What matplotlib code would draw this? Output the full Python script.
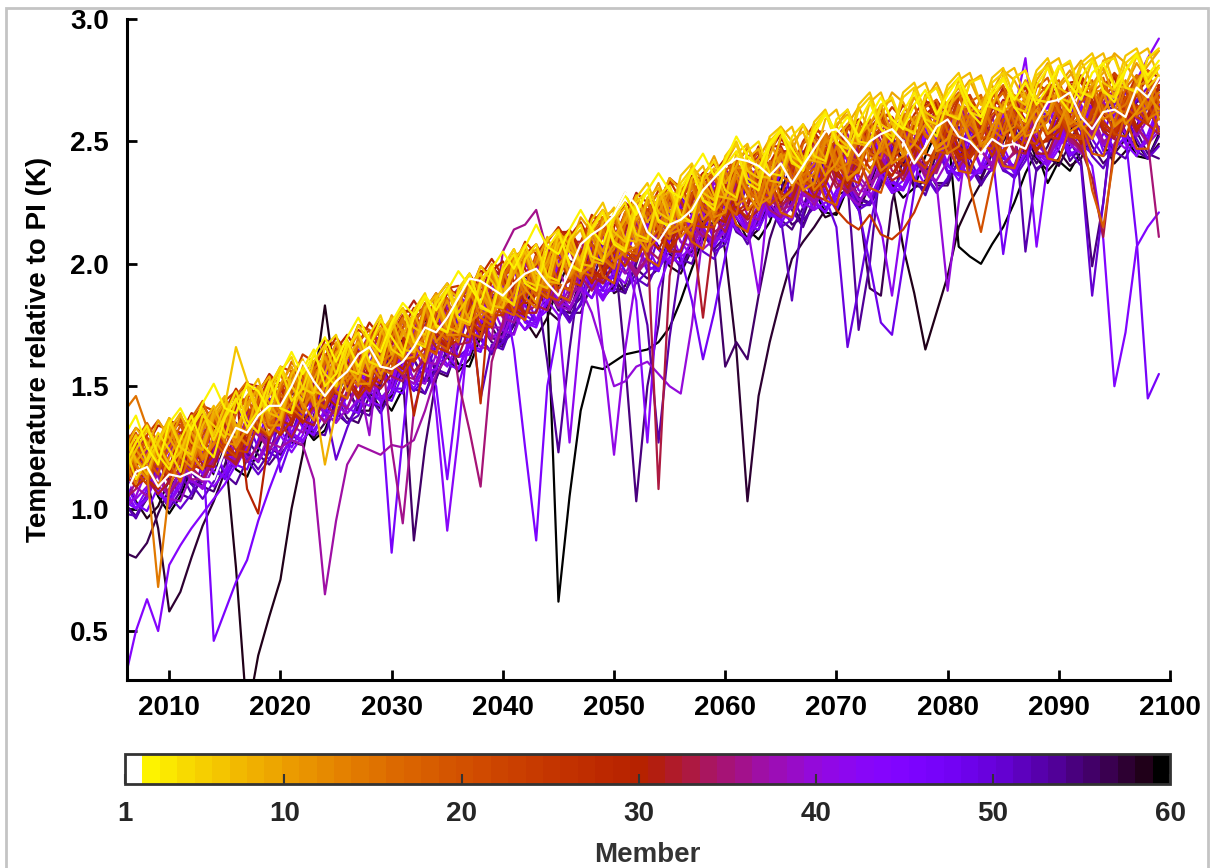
import numpy as np
import matplotlib
matplotlib.use("Agg")
import matplotlib.pyplot as plt
from matplotlib.colors import ListedColormap, Normalize
from matplotlib.cm import ScalarMappable
from matplotlib.ticker import FormatStrFormatter
from matplotlib.patches import Rectangle

plt.rcParams['font.family'] = ['Liberation Sans', 'DejaVu Sans']
plt.rcParams['font.weight'] = 'bold'

years = list(range(2006, 2100))

# annual temperature relative to PI, in hundredths of a kelvin, one list per member
m01 = [105,115,117,109,114,113,115,112,112,124, 133,131,138,142,142,150,160,152,146,152,
       156,163,166,158,157,160,166,174,172,178, 186,194,193,190,187,192,196,198,192,187,
       197,208,212,215,220,229,224,213,209,216, 218,222,230,235,240,243,242,240,236,241,
       233,240,247,254,255,250,244,250,253,255, 250,241,248,256,259,252,250,245,251,248,
       249,247,258,266,267,270,260,255,262,263, 260,272,268,276]
m02 = [130,138,125,118,135,141,132,143,151,141, 139,151,148,140,155,164,155,163,170,160,
       170,178,169,164,176,184,179,187,181,189, 197,191,184,198,205,198,207,216,207,204,
       214,222,214,208,221,228,220,230,237,230, 227,238,245,236,242,252,244,239,249,255,
       247,240,253,261,254,260,252,260,268,259, 255,265,271,261,269,276,266,260,269,275,
       267,274,265,272,281,273,267,278,282,272, 279,285,277,283]
m03 = [118,127,134,122,116,128,138,126,121,137, 145,133,140,152,141,139,157,165,150,155,
       168,158,166,177,170,163,178,186,175,172, 188,196,183,180,197,204,192,189,206,213,
       200,197,214,221,208,205,222,230,218,215, 231,238,226,222,240,246,233,230,248,254,
       242,238,255,262,250,244,258,266,255,250, 262,270,258,252,266,273,262,257,271,276,
       264,258,273,280,268,262,276,283,271,266, 279,286,274,280]
m04 = [126,112,120,131,124,115,133,140,128,138, 148,136,131,150,158,144,149,163,155,150,
       166,172,160,158,175,181,168,166,184,190, 178,176,193,199,187,183,202,208,195,193,
       210,216,203,201,219,225,212,210,228,232, 220,217,236,242,230,227,246,250,237,236,
       252,257,244,242,259,263,250,249,265,268, 256,253,268,272,261,259,274,276,264,262,
       276,279,267,266,280,283,270,268,282,284, 272,270,284,288]
m05 = [121,130,119,127,136,125,122,138,134,129, 144,150,138,141,156,162,149,147,166,171,
       157,155,171,179,165,162,181,188,174,172, 190,196,182,180,199,206,193,191,210,214,
       199,197,215,222,209,206,225,230,217,216, 233,239,226,224,243,249,235,232,250,255,
       241,239,256,262,249,247,263,268,255,252, 268,272,259,257,271,276,262,260,274,278,
       264,262,277,281,268,266,280,284,270,268, 282,286,272,277]
m06 = [115,124,132,126,118,123,135,141,130,142, 166,152,140,146,158,150,144,160,167,155,
       162,175,168,161,173,182,174,171,186,192, 180,187,199,193,186,201,208,196,194,212,
       205,201,218,225,213,209,227,233,221,218, 236,241,229,226,244,250,238,235,252,256,
       244,241,258,263,252,248,265,270,257,254, 270,274,262,259,273,278,265,262,276,280,
       268,265,279,284,272,269,282,286,274,271, 285,288,276,281]
m07 = [131,120,114,128,137,126,120,134,142,131, 129,146,153,139,137,155,161,148,146,163,
       169,156,154,172,178,165,164,182,187,174, 172,190,196,183,182,200,205,192,190,208,
       213,200,199,217,223,210,209,227,231,218, 217,235,240,228,227,245,249,236,235,252,
       256,243,242,259,263,250,249,266,270,257, 256,271,274,262,261,275,278,265,264,277,
       280,268,267,281,284,271,270,283,286,273, 272,285,288,276]
m08 = [124,133,127,119,132,139,127,124,140,146, 134,131,148,154,141,139,150,146,118,140,
       162,168,156,160,176,182,169,167,184,189, 177,175,193,198,185,184,202,206,193,192,
       209,214,201,200,218,223,210,209,226,230, 218,217,234,239,227,226,243,247,234,233,
       250,254,242,241,257,261,249,248,264,267, 255,254,269,272,261,260,274,277,264,263,
       276,279,267,266,280,282,270,269,283,285, 272,271,284,287]
m09 = [128,119,125,136,129,121,134,127,138,145, 133,141,150,143,136,152,158,147,155,168,
       158,152,167,174,163,171,180,169,176,190, 186,177,191,200,189,196,205,194,201,213,
       208,199,213,222,211,218,228,217,224,235, 230,221,235,244,233,240,248,237,244,256,
       250,241,253,262,251,257,264,254,260,270, 266,257,267,274,264,269,275,265,270,279,
       275,266,275,282,272,277,283,273,278,286, 282,274,281,287]
m10 = [116,127,133,121,127,138,131,124,137,143, 131,143,149,137,151,158,146,153,162,151,
       165,171,159,166,179,172,165,181,188,176, 183,195,189,182,198,206,195,200,211,199,
       206,219,213,205,220,229,218,224,233,221, 227,240,234,226,241,249,238,243,251,239,
       246,257,250,243,256,263,252,257,265,253, 258,268,261,254,266,272,262,266,273,262,
       266,275,268,261,273,279,269,273,280,268, 273,282,275,280]
m11 = [112,124,118,109,121,130,122,116,131,137, 125,133,141,130,138,150,143,136,151,160,
       148,156,165,155,161,173,167,160,176,185, 172,180,189,179,186,198,190,184,199,208,
       195,203,211,201,208,219,211,205,221,230, 216,223,231,221,227,238,229,222,236,245,
       232,238,246,236,241,251,243,237,249,258, 244,249,257,247,251,261,251,245,256,264,
       251,256,263,253,257,267,257,251,262,270, 257,262,269,263]
m12 = [130,118,112,126,134,121,117,132,139,127, 126,143,148,134,134,152,157,142,145,164,
       167,151,151,171,176,161,162,182,186,171, 171,192,196,181,183,203,206,190,191,210,
       212,196,199,219,222,205,207,226,228,212, 214,233,235,219,221,239,240,224,227,244,
       245,230,233,250,251,235,238,254,256,241, 244,260,261,246,248,264,264,249,252,266,
       267,252,254,268,269,254,257,270,271,256, 260,273,274,259]
m13 = [119,110,122,129,116,124,135,121,127,140, 127,132,148,136,140,156,141,148,163,150,
       154,170,157,162,177,163,168,183,168,174, 189,176,180,196,182,188,204,189,193,209,
       195,200,216,201,206,221,207,212,227,213, 217,232,218,223,238,224,227,242,228,233,
       247,233,237,252,238,241,256,242,246,259, 245,249,262,248,251,265,251,254,267,253,
       256,269,255,258,271,257,260,273,259,262, 275,261,264,276]
m14 = [127,121,115,68,108,122,131,120,126,138, 131,126,140,150,138,143,157,146,150,164,
       152,158,171,160,163,177,166,170,183,171, 175,189,178,183,198,185,189,203,190,194,
       208,195,200,214,201,205,219,206,211,225, 211,216,229,216,222,236,222,227,240,226,
       230,244,230,235,248,234,239,252,238,242, 255,241,246,258,245,248,261,248,251,263,
       250,254,266,253,256,268,255,258,270,257, 260,272,259,262]
m15 = [140,146,133,124,137,128,119,133,140,129, 144,150,137,142,155,145,139,157,162,149,
       156,167,159,153,170,178,164,170,184,173, 168,186,193,180,187,199,186,182,200,207,
       194,201,214,202,198,216,222,209,214,228, 216,212,230,236,224,229,242,229,225,243,
       248,236,241,254,241,237,254,259,246,250, 262,249,245,262,266,253,257,268,255,251,
       266,270,258,261,272,259,256,270,274,262, 265,275,263,270]
m16 = [117,128,135,127,116,125,137,144,132,128, 146,152,140,134,149,160,153,144,160,167,
       155,150,168,176,166,160,175,184,173,169, 187,193,181,177,194,203,193,187,202,210,
       198,194,212,219,208,203,218,226,214,210, 228,234,222,218,235,242,231,225,240,247,
       235,231,248,254,243,238,252,259,247,243, 260,265,253,249,263,269,257,252,265,270,
       258,254,268,273,262,257,270,275,263,258, 272,277,265,270]
m17 = [125,117,113,126,119,111,124,136,128,122, 139,146,134,130,147,141,137,155,161,148,
       145,163,170,157,155,173,166,162,181,186, 172,170,188,194,181,179,196,190,186,205,
       211,197,195,213,219,206,204,221,215,212, 230,235,222,220,238,242,229,226,242,236,
       233,249,253,240,238,255,258,245,243,258, 252,249,264,267,254,252,266,269,256,255,
       269,262,259,272,275,262,260,273,276,263, 262,276,279,266]
m18 = [109,120,128,117,124,134,127,120,136,142, 130,126,144,151,139,147,158,145,141,160,
       167,154,150,169,176,163,171,181,168,165, 184,192,178,175,194,201,188,195,205,192,
       189,208,216,203,199,218,225,212,219,229, 215,211,231,238,224,220,239,246,232,238,
       249,236,232,250,256,243,240,257,263,250, 256,265,252,249,265,270,257,254,268,273,
       260,257,272,276,263,259,256,230,215,245, 262,270,258,266]
m19 = [123,131,120,114,129,136,124,121,138,131, 128,145,150,137,134,151,156,143,160,154,
       151,168,173,160,157,174,179,166,163,180, 185,172,170,188,193,180,177,195,200,187,
       185,203,208,195,192,210,215,202,199,217, 222,209,206,224,229,216,213,230,234,221,
       219,235,239,226,224,240,243,231,229,244, 247,234,233,248,251,238,237,251,253,240,
       239,253,256,243,242,256,258,245,244,258, 260,247,247,261]
m20 = [132,126,116,122,133,127,118,125,136,141, 134,130,144,149,141,138,152,158,148,153,
       167,161,156,170,175,166,163,178,184,176, 172,187,193,185,181,196,202,193,189,205,
       210,201,197,212,218,209,205,220,226,217, 213,228,234,225,221,236,241,232,228,243,
       248,239,235,249,254,245,241,254,259,250, 246,259,263,254,250,262,232,213,235,252,
       258,266,257,253,265,270,261,257,268,273, 264,260,271,276]
m21 = [114,121,129,124,113,119,130,138,130,124, 139,145,137,133,148,155,147,143,159,165,
       157,152,167,173,165,161,176,182,174,170, 185,191,183,179,194,200,192,188,203,209,
       201,196,211,217,209,205,219,225,217,213, 227,232,224,220,234,239,231,227,240,245,
       237,233,246,251,243,239,251,256,248,244, 256,260,252,248,259,263,255,251,261,265,
       257,253,264,268,260,256,266,270,262,258, 268,272,264,268]
m22 = [126,115,110,123,131,119,115,130,137,125, 121,138,145,133,131,149,155,143,141,158,
       164,152,151,168,174,162,161,178,183,171, 170,188,193,181,180,197,202,190,189,206,
       210,198,197,214,219,207,206,222,226,214, 213,229,233,221,220,236,240,228,227,242,
       245,233,232,247,250,238,237,252,255,243, 242,256,258,246,245,258,260,248,247,259,
       262,250,249,261,264,252,251,263,265,253, 252,264,266,254]
m23 = [126,133,129,120,113,119,131,142,140,132, 124,123,135,149,158,156,149,143,142,152,
       164,175,173,166,159,155,162,174,186,192, 185,177,173,180,193,204,203,193,187,185,
       196,209,219,219,211,203,201,211,224,235, 231,222,216,221,234,243,241,231,224,228,
       239,250,257,250,241,234,238,250,261,260, 250,243,239,248,260,269,268,259,249,246,
       254,266,274,270,260,253,252,261,272,278, 273,263,258,264]
m24 = [112,119,130,136,129,120,115,121,134,144, 148,141,133,129,138,152,163,160,153,147,
       145,156,170,177,171,162,160,166,180,190, 191,184,175,174,185,199,209,204,195,190,
       190,202,216,222,214,205,202,210,223,233, 232,223,215,215,227,241,247,241,231,227,
       230,242,254,254,244,235,233,244,257,264, 259,249,241,244,256,267,269,260,249,245,
       253,266,273,271,260,252,251,262,273,277, 271,260,257,268]
m25 = [123,115,110,119,131,137,129,120,127,140, 149,142,132,130,143,156,155,146,141,149,
       162,173,170,161,156,166,180,186,177,167, 172,188,199,195,184,180,190,204,210,203,
       193,191,204,219,219,209,202,210,225,234, 226,216,215,229,242,239,228,222,233,247,
       240,236,245,232,222,217,214,220,212,210, 214,221,232,240,248,252,243,249,254,244,
       265,274,263,252,251,265,276,271,258,253, 265,276,275,263]
m26 = [130,125,116,110,114,126,136,142,136,127, 122,129,143,154,151,142,139,148,162,170,
       164,153,148,158,171,179,175,165,164,176, 189,196,188,179,179,191,204,208,199,190,
       193,208,220,216,205,199,207,221,230,226, 216,212,223,237,243,234,222,225,239,251,
       246,235,230,239,252,257,247,239,243,256, 265,257,245,243,256,268,265,253,244,253,
       266,272,262,251,254,268,277,270,257,254, 267,277,274,264]
m27 = [114,109,113,124,133,131,123,116,122,134, 146,151,145,135,130,136,149,159,166,160,
       152,145,151,162,173,181,180,172,166,164, 175,189,143,196,187,180,185,199,209,215,
       208,199,193,197,209,221,227,221,212,205, 213,226,236,235,226,221,225,239,248,248,
       239,230,227,236,247,256,254,246,237,240, 252,261,267,260,250,243,244,255,265,270,
       264,254,246,252,264,273,274,267,256,252, 259,269,276,272]
m28 = [128,123,112,108,117,130,139,137,128,122, 122,133,147,155,150,140,135,142,155,165,
       171,164,154,151,161,174,182,180,172,166, 169,182,195,202,195,185,179,188,201,210,
       214,206,196,194,206,219,226,222,213,207, 212,225,237,241,233,223,219,229,241,249,
       248,238,230,232,244,255,259,252,241,236, 243,255,265,264,254,245,243,254,265,271,
       265,254,247,251,264,274,275,266,255,253, 261,272,277,268]
m29 = [117,127,132,125,115,113,125,138,135,126, 121,132,148,154,145,136,143,156,167,163,
       154,147,154,167,176,170,138,160,175,189, 188,178,171,181,196,204,198,188,186,197,
       211,217,208,197,201,215,226,222,211,206, 218,232,237,227,218,225,238,248,239,229,
       226,238,252,251,239,231,240,255,261,250, 240,244,257,267,260,247,244,256,267,264,
       253,246,257,270,273,261,250,257,270,277, 267,256,259,273]
m30 = [110,117,126,134,132,124,118,116,126,139, 148,108,98,130,137,150,159,154,146,142,
       152,167,176,170,161,157,167,181,188,180, 171,170,182,197,201,193,184,184,197,210,
       211,200,192,200,215,225,221,211,206,214, 228,236,229,219,217,230,244,245,233,225,
       232,245,254,247,236,233,245,257,255,244, 237,247,261,265,254,244,247,261,270,263,
       252,248,258,271,270,258,249,258,271,276, 265,255,260,272]
m31 = [118,111,115,126,136,134,126,118,117,128, 142,151,150,142,136,134,145,157,169,167,
       160,153,149,155,167,178,185,178,170,166, 172,186,197,197,187,181,179,190,203,213,
       213,205,197,195,205,218,229,225,216,210, 215,228,237,236,226,220,223,235,246,253,
       246,237,231,235,246,257,256,247,240,236, 245,257,266,266,257,248,244,252,263,272,
       268,258,250,250,259,271,276,271,261,256, 262,272,279,276]
m32 = [130,123,112,106,111,124,134,138,131,122, 118,127,142,152,149,141,136,134,146,160,
       167,161,152,149,155,168,179,180,173,164, 162,174,188,199,194,185,180,180,192,206,
       212,204,195,192,200,213,223,222,213,205, 205,217,178,215,232,223,218,222,234,246,
       246,236,228,226,236,249,256,252,242,234, 237,249,260,263,254,244,239,247,259,267,
       265,254,245,245,256,268,271,265,254,251, 262,254,261,273]
m33 = [113,125,129,120,110,117,130,139,132,121, 119,132,146,144,135,129,138,151,163,160,
       151,146,156,169,175,165,156,161,177,188, 183,173,169,180,194,200,193,183,181,194,
       209,209,199,192,200,215,224,210,108,195, 219,232,229,219,213,225,238,244,234,224,
       227,241,252,245,233,229,242,255,253,242, 234,243,258,262,252,242,246,259,267,257,
       246,245,258,270,265,253,247,235,211,249, 257,265,257,253]
m34 = [104,108,118,127,132,126,117,112,119,132, 143,140,132,128,137,150,159,153,143,138,
       148,161,169,164,154,152,165,178,185,177, 167,168,180,194,198,189,180,183,198,210,
       206,195,189,197,211,220,216,206,202,213, 227,233,224,213,216,231,242,238,227,222,
       231,244,250,240,231,235,248,258,250,238, 236,249,261,259,247,239,247,260,265,256,
       245,248,261,271,264,252,248,261,271,268, 258,272,267,259]
m35 = [118,127,123,114,106,112,124,136,141,134, 124,119,126,138,148,154,149,141,135,141,
       152,163,171,169,161,154,153,164,178,186, 152,132,109,160,176,199,205,198,189,183,
       187,199,211,217,211,202,195,203,216,226, 225,216,211,216,230,240,239,231,222,219,
       228,239,249,247,238,229,232,245,254,260, 253,243,236,238,249,260,264,258,247,240,
       246,258,266,268,261,251,246,253,263,270, 266,256,250,211]
m36 = [102,111,122,130,127,118,112,112,123,136, 144,139,130,124,131,143,154,160,154,144,
       141,151,164,171,125,94,140,158,171,184, 190,184,174,169,205,214,216,222,205,188,
       184,196,209,216,212,203,197,202,215,227, 231,223,213,210,220,233,240,240,230,222,
       224,236,248,252,244,233,228,236,248,258, 257,247,238,237,248,260,265,259,247,241,
       245,258,267,269,260,250,247,255,266,271, 262,270,265,255]
m37 = [119,109,105,116,128,125,116,111,122,137, 118,133,130,127,125,128,126,112,65,95,
       118,126,124,122,126,125,128,140,155,162, 169,185,193,188,178,176,187,201,207,198,
       187,191,205,216,212,201,196,208,222,227, 217,208,215,229,239,231,220,218,230,244,
       243,231,224,233,247,253,242,233,237,250, 260,253,240,238,250,262,258,247,239,251,
       264,267,254,244,251,265,271,261,250,253, 267,259,269,275]
m38 = [128,126,116,109,106,116,129,138,135,126, 119,126,140,148,143,134,131,141,157,166,
       160,151,147,156,170,176,169,160,159,171, 185,190,182,174,174,187,200,201,190,182,
       190,205,215,211,201,196,204,218,226,219, 209,207,220,235,236,225,216,224,237,246,
       239,228,226,238,249,247,236,230,240,254, 258,247,237,241,255,265,257,246,241,252,
       265,264,251,243,252,266,270,259,249,254, 266,252,259,269]
m39 = [116,126,122,113,104,103,114,128,137,135, 127,121,120,130,142,153,152,145,139,135,
       141,153,130,170,163,154,151,157,171,182, 181,172,166,165,176,189,199,199,191,183,
       181,191,204,215,211,202,196,201,214,223, 222,212,206,210,222,234,240,234,225,219,
       223,234,246,245,235,228,224,234,246,255, 255,246,237,234,242,254,262,258,247,240,
       240,249,260,266,261,252,246,252,262,269, 266,256,249,254]
m40 = [100,105,116,125,128,121,112,108,117,131, 141,138,131,125,123,134,149,156,151,142,
       139,145,158,168,169,161,153,151,163,177, 187,183,174,170,170,182,196,202,194,185,
       182,190,180,165,150,152,158,160,155,150, 147,175,213,209,213,226,237,238,228,220,
       218,228,242,249,244,234,226,230,242,253, 256,247,237,233,189,225,261,259,247,239,
       239,250,261,265,259,249,245,256,248,255, 267,272,265,255]
m41 = [114,104,109,121,129,122,111,109,122,135, 133,124,119,127,140,151,149,140,136,146,
       159,165,155,145,150,165,177,172,162,158, 168,183,189,183,173,171,184,199,199,189,
       182,190,205,165,122,165,195,209,222,219, 209,203,215,229,235,226,215,188,233,244,
       237,225,222,235,247,245,234,227,236,251, 255,245,235,240,253,262,251,240,238,252,
       264,259,246,241,253,265,263,251,259,251, 247,255,267,272]
m42 = [121,126,118,108,102,109,122,133,130,121, 117,126,140,148,142,131,127,137,151,159,
       154,144,142,154,167,173,166,156,157,169, 182,187,178,170,173,188,200,196,185,179,
       127,175,210,206,196,192,203,217,223,214, 203,206,221,233,229,219,213,223,236,242,
       232,223,228,241,250,242,230,229,215,187, 220,240,232,241,254,260,250,239,241,255,
       265,258,245,242,255,266,262,252,266,261, 253,246,250,261]
m43 = [108,100,104,115,126,131,124,114,109,115, 127,137,144,138,130,123,130,141,153,161,
       159,151,144,142,153,166,175,173,140,91, 130,178,188,195,188,179,173,177,189,201,
       207,201,192,185,193,206,216,215,206,201, 206,220,230,230,222,214,210,220,231,241,
       239,230,222,225,237,246,252,246,236,229, 231,242,253,258,252,242,234,240,251,260,
       262,284,244,240,247,258,264,260,250,245, 262,275,284,292]
m44 = [30,50,63,50,77,85,92,98,104,110, 118,125,133,143,149,142,133,130,141,154,
       161,159,150,144,147,159,173,179,173,163, 157,167,180,190,194,186,176,174,186,199,
       206,202,193,187,192,205,185,127,190,203, 200,210,223,231,231,222,213,216,228,240,
       244,236,226,221,228,240,250,250,240,231, 230,241,253,259,253,242,235,239,251,261,
       263,254,207,241,249,261,265,256,264,259, 249,244,253,265]
m45 = [110,122,117,107,101,112,127,133,124,115, 121,134,145,141,132,125,133,146,156,150,
       141,139,153,167,166,155,149,158,150,112, 150,167,165,177,191,197,188,177,181,195,
       206,202,191,186,198,212,217,207,198,205, 219,229,221,211,209,222,235,235,223,216,
       225,239,246,235,225,229,242,253,246,233, 231,243,255,252,241,234,245,258,260,248,
       238,245,258,265,255,245,247,240,210,150, 172,207,215,221]
m46 = [103,100,108,120,128,125,116,126,46,58, 70,79,95,108,120,130,140,145,141,137,
       146,160,166,158,149,147,160,174,179,171, 162,163,176,190,191,165,125,87,150,175,
       201,191,186,194,208,216,209,199,197,210, 225,226,215,207,215,229,237,231,220,218,
       230,241,240,229,222,232,246,251,240,230, 234,248,258,251,240,236,246,259,257,245,
       237,246,259,264,253,244,248,260,246,253, 263,270,268,259]
m47 = [111,102,99,109,122,131,129,121,115,113, 123,135,147,145,138,131,128,134,147,158,
       164,157,148,144,82,130,175,174,165,159, 157,169,182,193,193,185,177,175,185,198,
       209,205,196,190,195,208,217,216,206,200, 204,216,228,235,229,221,214,219,230,242,
       241,231,225,221,230,242,251,252,243,234, 231,239,251,260,256,246,238,238,246,258,
       264,259,249,244,250,261,267,264,254,247, 252,210,145,155]
m48 = [123,126,117,107,102,111,125,135,132,124, 118,116,128,142,149,143,135,132,139,152,
       162,163,155,146,144,155,170,180,176,167, 162,163,175,190,196,188,179,176,184,197,
       207,206,197,189,189,201,215,222,216,207, 203,185,161,180,203,224,215,214,224,238,
       245,240,231,223,226,238,249,253,244,234, 230,238,251,259,257,246,237,237,247,204,
       235,257,246,243,254,247,253,265,270,263, 253,246,251,263]
m49 = [119,127,118,106,103,116,129,127,118,112, 120,133,145,142,115,128,139,152,159,149,
       139,144,159,170,165,154,151,161,176,182, 175,166,164,178,193,193,183,176,184,199,
       208,200,190,189,203,216,213,203,197,209, 223,229,220,210,214,229,239,233,221,218,
       231,243,242,231,223,232,222,200,176,171, 200,230,259,249,238,237,250,262,256,244,
       239,251,262,261,249,258,249,245,253,265, 270,260,250,256]
m50 = [106,100,105,117,127,124,115,111,120,133, 141,135,125,120,130,143,152,147,138,136,
       148,161,167,159,149,149,162,175,180,171, 162,166,181,194,190,179,173,181,195,204,
       200,190,186,197,211,217,208,197,200,215, 227,223,213,208,218,232,237,228,219,224,
       237,246,239,227,215,166,190,215,237,229, 238,251,257,248,237,240,253,263,255,243,
       240,253,263,260,250,265,259,251,244,248, 259,267,272,265]
m51 = [110,121,124,116,105,100,106,118,128,134, 128,120,114,120,131,142,151,149,142,120,
       133,144,157,165,163,154,148,153,168,178, 184,178,169,164,168,180,192,198,192,183,
       176,184,197,207,206,197,192,197,211,221, 221,213,205,202,212,224,233,232,223,215,
       218,230,240,246,239,229,222,225,236,247, 252,246,236,229,235,247,255,257,249,239,
       235,242,252,259,255,246,240,187,225,264, 261,251,243,248]
m52 = [98,97,106,118,125,120,110,104,111,123, 133,139,133,123,120,130,144,151,150,141,
       135,138,150,163,169,162,153,147,157,170, 179,184,145,167,165,177,190,197,193,184,
       178,183,196,208,212,204,194,191,201,214, 222,222,213,205,208,221,232,237,229,219,
       185,221,234,244,243,233,224,224,235,247, 253,247,236,230,234,247,256,258,248,238,
       236,244,255,260,251,260,254,244,239,248, 260,267,264,254]
m53 = [102,96,105,119,124,115,106,112,125,135, 131,122,116,123,136,145,140,131,130,144,
       158,157,146,139,148,163,172,166,157,155, 166,181,187,179,168,172,186,197,193,182,
       177,189,203,208,198,189,196,175,127,170, 202,200,213,227,227,216,208,218,232,239,
       228,218,223,236,246,239,226,225,237,249, 246,235,228,240,253,256,243,233,239,253,
       260,205,239,242,256,249,258,264,256,246, 243,253,265,261]
m54 = [115,123,118,108,100,107,120,128,123,114, 110,120,136,145,139,130,127,136,151,157,
       149,140,138,150,164,168,161,152,153,166, 179,181,170,163,171,186,196,192,160,123,
       165,199,207,200,190,188,201,216,217,206, 198,206,220,229,223,213,210,223,234,233,
       222,215,226,240,244,233,173,200,242,252, 245,234,230,241,254,253,240,232,240,254,
       259,248,238,243,255,242,248,258,265,263, 254,246,243,252]
m55 = [104,117,124,121,112,106,104,114,126,137, 135,128,122,118,124,136,148,154,148,139,
       135,141,154,165,164,154,149,147,159,172, 182,183,175,168,166,176,189,200,196,187,
       181,186,199,208,207,160,103,150,175,219, 226,220,212,206,211,223,234,234,224,218,
       214,223,236,245,245,236,227,225,233,245, 254,250,240,233,233,242,253,259,253,244,
       239,245,255,262,259,250,242,199,225,267, 264,254,245,243]
m56 = [102,97,104,117,126,123,115,109,107,118, 132,139,134,125,122,128,142,152,154,146,
       137,135,146,160,150,155,87,125,153,165, 179,186,178,170,167,175,188,198,197,188,
       180,180,192,206,213,207,198,194,198,211, 223,224,215,207,158,168,161,187,210,224,
       216,219,232,243,246,237,227,224,232,245, 253,251,240,232,232,243,254,258,251,241,
       238,249,241,248,260,266,258,248,241,246, 258,266,269,261]
m57 = [82,80,86,98,108,115,110,111,124,135, 132,123,119,129,142,148,139,129,135,150,
       161,156,145,141,151,165,172,165,156,154, 167,183,183,174,167,175,190,199,191,181,
       180,194,207,204,194,188,200,214,220,211, 201,205,220,231,225,214,210,224,236,235,
       224,216,226,241,245,235,225,190,187,225, 243,232,231,245,257,252,239,234,245,257,
       256,244,252,244,240,249,260,265,255,245, 251,262,270,262]
m58 = [118,122,112,92,58,66,80,93,103,115, 120,128,134,142,137,127,126,138,152,158,
       150,140,140,152,165,169,161,152,156,171, 183,180,169,164,172,186,195,191,181,177,
       188,202,208,199,188,191,206,218,214,204, 199,209,223,229,205,165,103,146,168,186,
       202,209,215,222,228,230,222,232,245,251, 242,231,234,248,258,251,238,235,247,258,
       255,245,259,254,246,240,243,254,262,267, 260,249,243,249]
m59 = [114,103,96,101,112,122,128,122,114,125, 76,15,40,56,71,100,122,150,183,150,
       159,157,148,141,146,160,171,177,171,162, 156,161,173,186,192,186,177,170,178,191,
       201,200,191,186,191,205,215,215,207,199, 196,206,218,228,227,219,210,214,226,236,
       242,235,226,219,221,232,243,249,243,233, 207,188,165,180,195,215,225,233,239,250,
       257,253,243,238,243,254,262,259,249,241, 246,256,267,271]
m60 = [116,123,116,105,98,105,117,127,133,126, 116,113,124,137,144,142,134,128,132,144,
       157,163,156,146,140,149,163,172,177,169, 159,158,170,184,191,187,178,200,185,62,
       105,140,158,157,160,163,164,165,168,174, 185,198,210,218,225,225,214,210,217,230,
       240,239,230,221,220,231,243,250,244,233, 227,231,244,254,256,207,203,200,208,215,
       225,237,246,233,242,238,246,258,265,262, 252,244,243,253]

members = [m01, m02, m03, m04, m05, m06, m07, m08, m09, m10,
           m11, m12, m13, m14, m15, m16, m17, m18, m19, m20,
           m21, m22, m23, m24, m25, m26, m27, m28, m29, m30,
           m31, m32, m33, m34, m35, m36, m37, m38, m39, m40,
           m41, m42, m43, m44, m45, m46, m47, m48, m49, m50,
           m51, m52, m53, m54, m55, m56, m57, m58, m59, m60]
n_members = len(members)
cbar_ticks = [1, 10, 20, 30, 40, 50, 60]

# reversed gnuplot colours, member 1 shown in white
gp = plt.get_cmap('gnuplot')
member_colors = [(1.0, 1.0, 1.0, 1.0)] + [gp((n_members - k) / (n_members - 1)) for k in range(2, n_members + 1)]
cmap = ListedColormap(member_colors)

W, H = 1210, 868
fig = plt.figure(figsize=(W / 100, H / 100), dpi=100)
ax = fig.add_axes([127 / W, 188 / H, 1043 / W, 661 / H])

# draw the last member first so that low numbers sit on top
for k in range(n_members, 0, -1):
    vals = np.array(members[k - 1]) / 100.0
    ax.plot(years[:len(vals)], vals, color=member_colors[k - 1], lw=1.6,
            solid_joinstyle='round', solid_capstyle='round')

ax.set_xlim(2006.2, 2100)
ax.set_ylim(0.3, 3.0)
ax.set_xticks(range(2010, 2101, 10))
ax.set_yticks([0.5, 1.0, 1.5, 2.0, 2.5, 3.0])
ax.yaxis.set_major_formatter(FormatStrFormatter('%.1f'))
for s in ['top', 'right']:
    ax.spines[s].set_visible(False)
for s in ['left', 'bottom']:
    ax.spines[s].set_linewidth(2.2)
ax.tick_params(direction='in', length=7, width=2, labelsize=20)
ax.tick_params(axis='x', pad=11)
ax.tick_params(axis='y', pad=13)
ax.set_ylabel('Temperature relative to PI (K)', fontsize=20, fontweight='bold')
ax.yaxis.set_label_coords(-0.072, 0.5)

# colour bar
cax = fig.add_axes([125 / W, 84 / H, 1045 / W, 30 / H])
sm = ScalarMappable(norm=Normalize(1, n_members), cmap=cmap)
cb = fig.colorbar(sm, cax=cax, orientation='horizontal', ticks=cbar_ticks)
cb.outline.set_edgecolor('#333333')
cb.outline.set_linewidth(2)
cax.tick_params(direction='in', length=7, width=1.5, color='#333333',
                labelcolor='#262626', labelsize=20, pad=12)
cb.set_label('Member', fontsize=20, fontweight='bold', color='#333333', labelpad=11)

# light grey frame around the figure
fig.add_artist(Rectangle((6 / W, -0.1), 1202 / W, 1.1 - 8 / H, transform=fig.transFigure,
                         fill=False, ec='#c4c4c4', lw=2))

fig.savefig('out.png', dpi=100)
